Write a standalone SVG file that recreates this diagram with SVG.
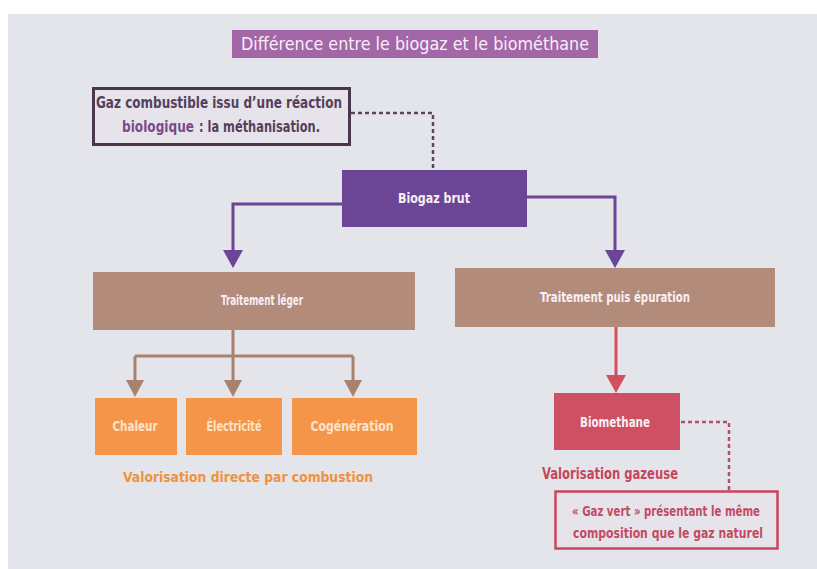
<svg xmlns="http://www.w3.org/2000/svg" width="817" height="569" viewBox="0 0 817 569">
<style>
  text { font-family: "Liberation Sans Narrow", "DejaVu Sans Condensed", "Liberation Sans", sans-serif; font-weight: bold; text-anchor: middle; }
  .w { fill: #f8f0f4; font-size: 14px; }
  .wo { fill: #fde4c8; font-size: 14px; }
  .ttl { fill: #f8eef8; font-size: 17px; font-weight: normal; }
  .note1 { fill: #55405c; font-size: 15px; }
  .bio { fill: #7a4a8a; font-size: 15px; text-anchor: start; }
  .st { text-anchor: start; }
  .note2 { fill: #c24a62; font-size: 14px; }
  .lbl-o { fill: #f0923a; font-size: 14px; }
  .lbl-r { fill: #c8465c; font-size: 15px; }
  .pur { fill: none; stroke: #6b4596; stroke-width: 3; }
  .brn { fill: none; stroke: #a8826f; stroke-width: 3; }
  .red { fill: none; stroke: #d2505e; stroke-width: 3; }
  .dot1 { fill: none; stroke: #5b4560; stroke-width: 2.5; stroke-dasharray: 4 3; }
  .dot2 { fill: none; stroke: #b0506e; stroke-width: 2.5; stroke-dasharray: 4 3; }
</style>
<defs>
  <marker id="mp" viewBox="0 0 20 18" refX="10" refY="8" markerWidth="20" markerHeight="18" markerUnits="userSpaceOnUse">
    <path d="M0,0 L20,0 L10,18 Z" fill="#6b4596"/>
  </marker>
  <marker id="mb" viewBox="0 0 18 17" refX="9" refY="7" markerWidth="18" markerHeight="17" markerUnits="userSpaceOnUse">
    <path d="M0,0 L18,0 L9,17 Z" fill="#a8826f"/>
  </marker>
  <marker id="mr" viewBox="0 0 20 18" refX="10" refY="8" markerWidth="20" markerHeight="18" markerUnits="userSpaceOnUse">
    <path d="M0,0 L20,0 L10,18 Z" fill="#d2505e"/>
  </marker>
</defs>
<rect x="0" y="0" width="817" height="569" fill="#ffffff"/>
<rect x="8" y="14" width="809" height="555" fill="#e3e5eb"/>

<g id="title">
  <rect x="232" y="30" width="366" height="28" fill="#a366a6"/>
  <text class="ttl" x="415" y="50" textLength="348" lengthAdjust="spacingAndGlyphs">Différence entre le biogaz et le biométhane</text>
</g>

<g id="connectors">
  <path class="dot1" d="M351,113 H433 V168"/>
  <path class="pur" d="M342,204 H233 V258" marker-end="url(#mp)"/>
  <path class="pur" d="M527,197 H615 V258" marker-end="url(#mp)"/>
  <path class="brn" d="M233,330 V356 M135,356 H353"/>
  <path class="brn" d="M135,356 V387" marker-end="url(#mb)"/>
  <path class="brn" d="M233,356 V387" marker-end="url(#mb)"/>
  <path class="brn" d="M353,356 V387" marker-end="url(#mb)"/>
  <path class="red" d="M616,327 V383" marker-end="url(#mr)"/>
  <path class="dot2" d="M681,422 H729 V490"/>
</g>

<g id="note-biogaz">
  <rect x="93.5" y="88.5" width="256" height="56" fill="#e6e4ea" stroke="#4b3650" stroke-width="3"/>
  <text class="note1" x="219" y="108" textLength="246" lengthAdjust="spacingAndGlyphs">Gaz combustible issu d’une réaction</text>
  <text class="bio" x="122" y="132" textLength="72" lengthAdjust="spacingAndGlyphs">biologique</text>
  <text class="note1 st" x="199" y="132" textLength="121" lengthAdjust="spacingAndGlyphs">: la méthanisation.</text>
</g>

<g id="biogaz-brut">
  <rect x="342" y="170" width="185" height="57" fill="#6b4596"/>
  <text class="w" x="434" y="203" textLength="72" lengthAdjust="spacingAndGlyphs">Biogaz brut</text>
</g>

<g id="traitement-leger">
  <rect x="93" y="272" width="322" height="58" fill="#b38b7b"/>
  <text class="w" x="262" y="305" textLength="82" lengthAdjust="spacingAndGlyphs">Traitement léger</text>
</g>

<g id="traitement-epuration">
  <rect x="455" y="268" width="320" height="59" fill="#b38b7b"/>
  <text class="w" x="615" y="302" textLength="150" lengthAdjust="spacingAndGlyphs">Traitement puis épuration</text>
</g>

<g id="chaleur">
  <rect x="95" y="398" width="82" height="57" fill="#f4954a"/>
  <text class="wo" x="135" y="431" textLength="45" lengthAdjust="spacingAndGlyphs">Chaleur</text>
</g>

<g id="electricite">
  <rect x="186" y="398" width="96" height="57" fill="#f4954a"/>
  <text class="wo" x="234" y="431" textLength="55" lengthAdjust="spacingAndGlyphs">Électricité</text>
</g>

<g id="cogeneration">
  <rect x="292" y="398" width="125" height="57" fill="#f4954a"/>
  <text class="wo" x="352" y="431" textLength="83" lengthAdjust="spacingAndGlyphs">Cogénération</text>
</g>

<g id="label-combustion">
  <text class="lbl-o" x="248" y="482" textLength="250" lengthAdjust="spacingAndGlyphs">Valorisation directe par combustion</text>
</g>

<g id="biomethane">
  <rect x="554" y="393" width="126" height="57" fill="#cf5062"/>
  <text class="w" x="615" y="427" textLength="70" lengthAdjust="spacingAndGlyphs">Biomethane</text>
</g>

<g id="label-gazeuse">
  <text class="lbl-r" x="610" y="479" textLength="136" lengthAdjust="spacingAndGlyphs">Valorisation gazeuse</text>
</g>

<g id="note-biomethane">
  <rect x="555.5" y="491.5" width="222" height="57" fill="#e6e4ea" stroke="#c8465c" stroke-width="2.5"/>
  <text class="note2" x="666" y="516" textLength="188" lengthAdjust="spacingAndGlyphs">« Gaz vert » présentant le même</text>
  <text class="note2" x="668" y="538" textLength="190" lengthAdjust="spacingAndGlyphs">composition que le gaz naturel</text>
</g>
</svg>
